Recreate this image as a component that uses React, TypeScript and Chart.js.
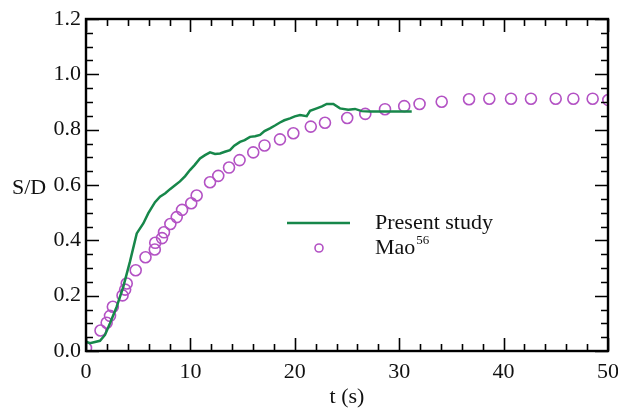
import React, { useEffect, useRef } from "react";
import { Chart, registerables } from "chart.js";

Chart.register(...registerables);

// Present study (green line)
const presentT = [0, 0.38, 1.34, 1.82, 2.3, 2.94, 3.57, 4.21, 4.86, 5.49, 5.97, 6.61, 7.09, 7.6, 8.05, 8.5, 9.0, 9.5, 9.96, 10.4, 10.92, 11.4, 11.88, 12.36, 12.84, 13.3, 13.79, 14.2, 14.75, 15.2, 15.71, 16.2, 16.67, 17.1, 17.62, 18.1, 18.58, 19.0, 19.54, 20.0, 20.5, 21.14, 21.46, 22.1, 22.6, 23.06, 23.69, 24.33, 25.12, 25.77, 26.41, 27.2, 29.0, 31.2];
const presentSD = [0.034, 0.028, 0.037, 0.058, 0.1, 0.16, 0.232, 0.323, 0.425, 0.461, 0.498, 0.538, 0.558, 0.57, 0.585, 0.598, 0.613, 0.632, 0.654, 0.672, 0.696, 0.708, 0.718, 0.712, 0.714, 0.72, 0.726, 0.742, 0.756, 0.762, 0.774, 0.776, 0.781, 0.795, 0.805, 0.815, 0.826, 0.834, 0.841, 0.848, 0.853, 0.849, 0.868, 0.877, 0.884, 0.893, 0.893, 0.877, 0.872, 0.875, 0.867, 0.866, 0.866, 0.866];

// Mao (purple open circles)
const maoT = [0, 1.39, 1.98, 2.3, 2.57, 3.5, 3.75, 3.9, 4.76, 5.7, 6.59, 6.63, 7.28, 7.47, 8.08, 8.69, 9.2, 10.08, 10.6, 11.88, 12.67, 13.7, 14.71, 16.02, 17.1, 18.58, 19.86, 21.53, 22.89, 25.02, 26.75, 28.64, 30.48, 31.95, 34.07, 36.69, 38.63, 40.71, 42.62, 44.99, 46.68, 48.53, 50.03];
const maoSD = [0.011, 0.074, 0.102, 0.127, 0.16, 0.201, 0.222, 0.244, 0.292, 0.339, 0.367, 0.391, 0.408, 0.429, 0.459, 0.484, 0.51, 0.534, 0.562, 0.61, 0.633, 0.663, 0.69, 0.718, 0.743, 0.765, 0.787, 0.811, 0.825, 0.842, 0.857, 0.874, 0.885, 0.893, 0.901, 0.91, 0.912, 0.912, 0.912, 0.912, 0.912, 0.912, 0.907];

const X_MIN = 0, X_MAX = 50, X_STEP = 10, X_MINOR = 2;
const Y_MIN = 0, Y_MAX = 1.2, Y_STEP = 0.2, Y_MINOR = 0.05;

const xTitle = "t (s)";
const yTitle = "S/D";
const legendLine = "Present study";
const legendMao = "Mao";
const legendMaoSup = "56";

const GREEN = "#17874a";
const PURPLE = "#b352c4";
const FONT = "'Liberation Serif', 'DejaVu Serif', serif";
const TEXT = "#111";

const framePlugin = {
  id: "frameTicks",
  afterDatasetsDraw(chart: any) {
    const { ctx, chartArea: a, scales } = chart;
    const xs = scales.x, ys = scales.y;
    ctx.save();
    ctx.strokeStyle = "#000";
    ctx.lineWidth = 1.6;
    const nx = Math.round((X_MAX - X_MIN) / X_MINOR);
    for (let i = 0; i <= nx; i++) {
      const v = X_MIN + i * X_MINOR;
      const major = Math.abs(v / X_STEP - Math.round(v / X_STEP)) < 1e-6;
      const len = major ? 13 : 7;
      const px = Math.round(xs.getPixelForValue(v)) + 0.5;
      ctx.beginPath();
      ctx.moveTo(px, a.bottom);
      ctx.lineTo(px, a.bottom - len);
      ctx.moveTo(px, a.top);
      ctx.lineTo(px, a.top + len);
      ctx.stroke();
    }
    const ny = Math.round((Y_MAX - Y_MIN) / Y_MINOR);
    for (let i = 0; i <= ny; i++) {
      const v = Y_MIN + i * Y_MINOR;
      const major = Math.abs(v / Y_STEP - Math.round(v / Y_STEP)) < 1e-6;
      const len = major ? 13 : 7;
      const py = Math.round(ys.getPixelForValue(v)) + 0.5;
      ctx.beginPath();
      ctx.moveTo(a.left, py);
      ctx.lineTo(a.left + len, py);
      ctx.moveTo(a.right, py);
      ctx.lineTo(a.right - len, py);
      ctx.stroke();
    }
    ctx.lineWidth = 2.4;
    ctx.strokeRect(a.left, a.top, a.right - a.left, a.bottom - a.top);

    ctx.fillStyle = TEXT;
    ctx.font = `22px ${FONT}`;
    ctx.textBaseline = "middle";
    ctx.textAlign = "left";
    ctx.fillText(yTitle, 12, 188);
    ctx.textAlign = "center";
    ctx.fillText(xTitle, (a.left + a.right) / 2, 397);

    const lx = 287, ly1 = 223, ly2 = 248, tx = 375;
    ctx.strokeStyle = GREEN;
    ctx.lineWidth = 2.5;
    ctx.beginPath();
    ctx.moveTo(lx, ly1);
    ctx.lineTo(350, ly1);
    ctx.stroke();
    ctx.strokeStyle = PURPLE;
    ctx.lineWidth = 1.6;
    ctx.beginPath();
    ctx.arc(319, ly2, 4, 0, Math.PI * 2);
    ctx.stroke();
    ctx.textAlign = "left";
    ctx.fillText(legendLine, tx, ly1);
    ctx.fillText(legendMao, tx, ly2);
    const w = ctx.measureText(legendMao).width;
    ctx.font = `13px ${FONT}`;
    ctx.fillText(legendMaoSup, tx + w + 1, ly2 - 7);
    ctx.restore();
  },
};

export default function App() {
  const ref = useRef<HTMLCanvasElement | null>(null);
  useEffect(() => {
    if (!ref.current) return;
    const chart = new Chart(ref.current, {
      type: "line",
      data: {
        datasets: [
          {
            label: legendLine,
            data: presentT.map((t, i) => ({ x: t, y: presentSD[i] })),
            borderColor: GREEN,
            borderWidth: 2.5,
            pointRadius: 0,
            fill: false,
            tension: 0,
          },
          {
            label: legendMao,
            data: maoT.map((t, i) => ({ x: t, y: maoSD[i] })),
            showLine: false,
            borderColor: PURPLE,
            backgroundColor: "rgba(0,0,0,0)",
            pointStyle: "circle",
            pointRadius: 5.5,
            pointBorderWidth: 1.6,
            pointBorderColor: PURPLE,
            pointBackgroundColor: "rgba(0,0,0,0)",
            clip: 0,
          } as any,
        ],
      },
      options: {
        animation: false,
        responsive: true,
        maintainAspectRatio: false,
        layout: { padding: { top: 19, right: 10, left: 0, bottom: 0 } },
        plugins: { legend: { display: false }, tooltip: { enabled: false } },
        scales: {
          x: {
            type: "linear",
            min: X_MIN,
            max: X_MAX,
            grid: { display: false, drawTicks: false },
            border: { display: false },
            ticks: {
              stepSize: X_STEP,
              padding: 8,
              color: TEXT,
              font: { family: FONT, size: 22 },
              maxRotation: 0,
              callback: (v: any) => String(v),
            },
            afterFit: (s: any) => {
              s.height = 58;
              s.paddingLeft = 0;
              s.paddingRight = 0;
            },
          },
          y: {
            type: "linear",
            min: Y_MIN,
            max: Y_MAX,
            grid: { display: false, drawTicks: false },
            border: { display: false },
            ticks: {
              stepSize: Y_STEP,
              padding: 5,
              color: TEXT,
              font: { family: FONT, size: 22 },
              callback: (v: any) => Number(v).toFixed(1),
            },
            afterFit: (s: any) => {
              s.width = 86;
              s.paddingTop = 0;
              s.paddingBottom = 0;
            },
          },
        },
      },
      plugins: [framePlugin],
    });
    return () => chart.destroy();
  }, []);
  return (
    <div style={{ position: "absolute", left: 0, top: 0, width: 618, height: 409, background: "#fff" }}>
      <canvas ref={ref} />
    </div>
  );
}
